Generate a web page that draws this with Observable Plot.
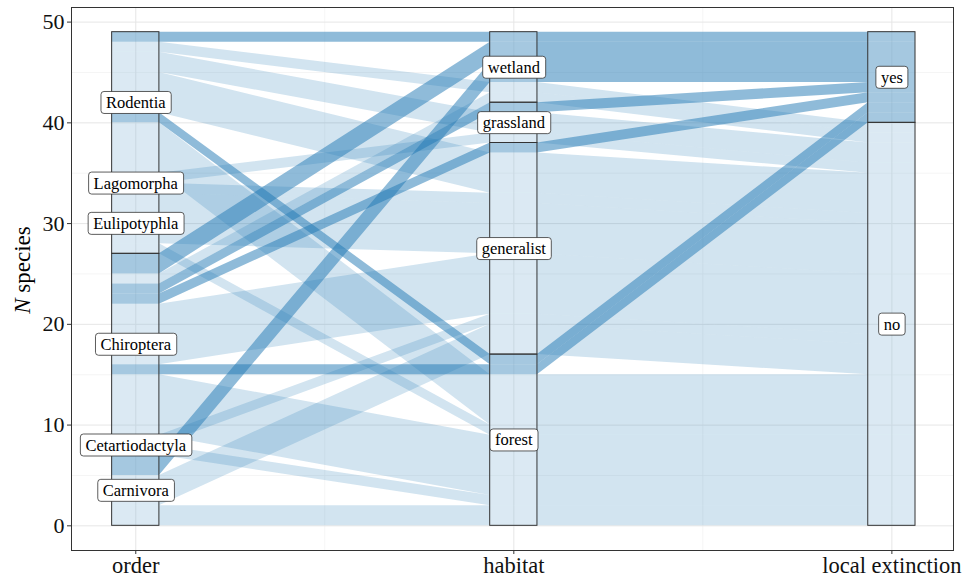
<!DOCTYPE html>
<html><head><meta charset="utf-8">
<script src="https://cdn.jsdelivr.net/npm/d3@7"></script>
<script src="https://cdn.jsdelivr.net/npm/@observablehq/plot@0.6"></script>
<style>body{margin:0;background:#fff;} svg{display:block}</style>
</head><body><div id="chart"></div>
<script>
// ---- data ----
const axesNames = ["order", "habitat", "local extinction"];
const orders = ["Carnivora","Cetartiodactyla","Chiroptera","Eulipotyphla","Lagomorpha","Rodentia"];
const habitats = ["forest","generalist","grassland","wetland"];
const extinction = ["no","yes"];
// species combinations (order × habitat × local extinction) and their counts
const groupOrder =   ["Carnivora","Carnivora","Carnivora","Cetartiodactyla","Cetartiodactyla",
  "Chiroptera","Chiroptera","Chiroptera","Chiroptera","Chiroptera","Chiroptera","Chiroptera",
  "Eulipotyphla","Eulipotyphla","Lagomorpha","Lagomorpha",
  "Rodentia","Rodentia","Rodentia","Rodentia","Rodentia","Rodentia"];
const groupHabitat = ["forest","generalist","wetland","forest","generalist",
  "forest","forest","generalist","generalist","grassland","wetland","wetland",
  "forest","generalist","generalist","grassland",
  "forest","forest","generalist","grassland","wetland","wetland"];
const groupExtinct = ["no","no","yes","no","no",
  "no","yes","no","yes","yes","no","yes",
  "no","no","no","no",
  "no","yes","no","no","no","yes"];
const groupCount =   [2,3,2,1,1,
  6,1,6,1,1,1,2,
  1,5,1,1,
  5,1,4,2,1,1];
const yTicks = [0,10,20,30,40,50];
const yMinor = [5,15,25,35,45];

// ---- layout helpers ----
const W = 0.0625; // half stratum width in axis units
const groups = groupOrder.map((o,i)=>({id:i, order:o, habitat:groupHabitat[i], ext:groupExtinct[i], n:groupCount[i], lo:[], hi:[]}));
const oi = g => orders.indexOf(g.order), hi = g => habitats.indexOf(g.habitat), ei = g => extinction.indexOf(g.ext);
const sortKeys = [g => [oi(g), hi(g), ei(g)], g => [hi(g), ei(g), oi(g)], g => [ei(g), hi(g), oi(g)]];
sortKeys.forEach((kf, k) => {
  const s = [...groups].sort((a,b) => { const ka = kf(a), kb = kf(b); for (let j=0;j<ka.length;j++){ if (ka[j]!==kb[j]) return ka[j]-kb[j]; } return 0; });
  let c = 0;
  s.forEach(g => { g.lo[k] = c; c += g.n; g.hi[k] = c; });
});
const areaPts = [];
groups.forEach(g => {
  for (let k=0;k<3;k++) {
    areaPts.push({id:g.id, ext:g.ext, x:k+1-W, y1:g.lo[k], y2:g.hi[k]});
    areaPts.push({id:g.id, ext:g.ext, x:k+1+W, y1:g.lo[k], y2:g.hi[k]});
  }
});
const strataCats = [
  [orders, g => g.order],
  [habitats, g => g.habitat],
  [extinction, g => g.ext]
];
const strata = [];
strataCats.forEach(([cats, acc], k) => {
  let c = 0;
  cats.forEach(cat => {
    const n = d3.sum(groups.filter(g => acc(g) === cat), g => g.n);
    strata.push({axis:k+1, name:cat, y1:c, y2:c+n, mid:c+n/2});
    c += n;
  });
});

const FONT = "Liberation Serif, Times New Roman, serif";
const plot = Plot.plot({
  width: 966, height: 585,
  marginLeft: 71, marginRight: 13, marginTop: 7, marginBottom: 35,
  style: {fontFamily: FONT, background: "#fff"},
  x: {type: "linear", domain: [0.83, 3.163]},
  y: {domain: [-2.45, 51.45]},
  marks: [
    Plot.gridY(yMinor, {stroke: "#f2f2f2", strokeOpacity: 1, strokeWidth: 0.8}),
    Plot.gridX([1.5, 2.5], {stroke: "#f2f2f2", strokeOpacity: 1, strokeWidth: 0.8}),
    Plot.gridY(yTicks, {stroke: "#e6e6e6", strokeOpacity: 1, strokeWidth: 1}),
    Plot.gridX([1,2,3], {stroke: "#e6e6e6", strokeOpacity: 1, strokeWidth: 1}),
    Plot.areaY(areaPts.filter(d => d.ext === "no"), {x:"x", y1:"y1", y2:"y2", z:"id", fill:"#1f77b4", fillOpacity:0.2, curve:"linear"}),
    Plot.areaY(areaPts.filter(d => d.ext === "yes"), {x:"x", y1:"y1", y2:"y2", z:"id", fill:"#1f77b4", fillOpacity:0.5, curve:"linear"}),
    Plot.rect(strata, {x1: d => d.axis - W, x2: d => d.axis + W, y1:"y1", y2:"y2", fill:"white", fillOpacity:0.2, stroke:"#333", strokeWidth:1}),
    Plot.text(strata, {x:"axis", y:"mid", text:"name", fontSize:16.5, fill:"#000"}),
    Plot.axisY(yTicks, {tickSize:4, tickPadding:3, fontSize:22, label:null, stroke:"#333", fill:"#111"}),
    Plot.axisX([1,2,3], {tickSize:4, tickPadding:3, fontSize:22.5, label:null, tickFormat: d => axesNames[d-1], stroke:"#333", fill:"#111"}),
    Plot.frame({stroke:"#333", strokeWidth:1})
  ]
});
document.getElementById("chart").append(plot);

// label boxes (like geom_label)
const strataNames = new Set(strata.map(d => d.name));
Array.from(plot.querySelectorAll("text"))
  .filter(t => strataNames.has(t.textContent.trim()))
  .forEach(t => {
    const b = t.getBBox();
    const r = document.createElementNS("http://www.w3.org/2000/svg","rect");
    r.setAttribute("x", b.x - 5);
    r.setAttribute("y", b.y - 1.5);
    r.setAttribute("width", b.width + 10);
    r.setAttribute("height", b.height + 3);
    r.setAttribute("rx", 3);
    r.setAttribute("fill", "white");
    r.setAttribute("stroke", "#333");
    r.setAttribute("stroke-width", 0.8);
    if (t.getAttribute("transform")) r.setAttribute("transform", t.getAttribute("transform"));
    t.parentNode.insertBefore(r, t);
  });

// y title with italic N
const svg = d3.select(plot);
const yt = svg.append("text")
  .attr("transform", "translate(22,270) rotate(-90)")
  .attr("text-anchor", "middle").attr("dy", "0.35em")
  .attr("font-family", FONT).attr("font-size", 23).attr("fill", "#000");
yt.append("tspan").attr("font-style", "italic").text("N");
yt.append("tspan").text(" species");
</script>
</body></html>
